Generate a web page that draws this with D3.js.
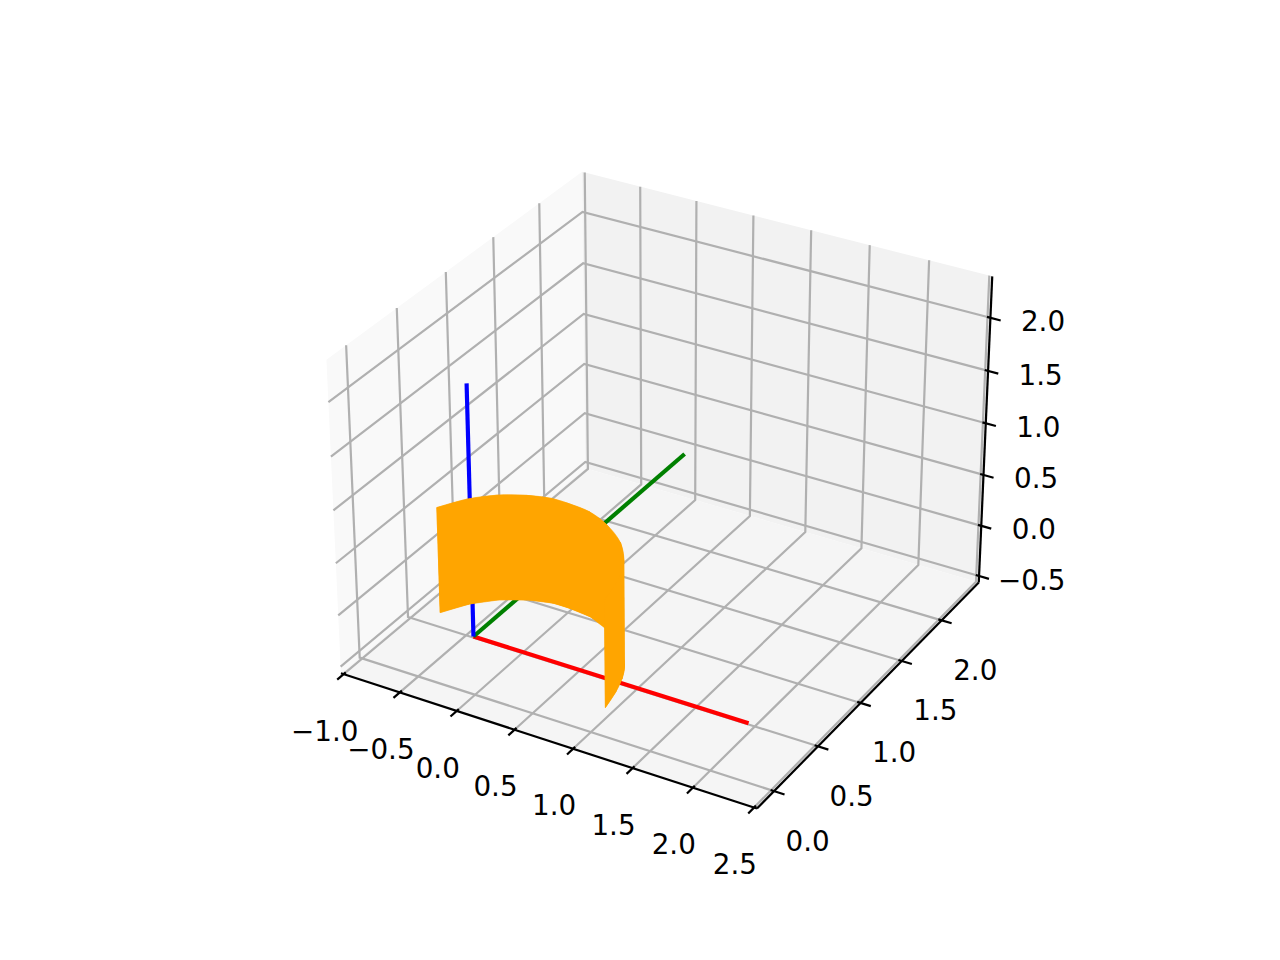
<!DOCTYPE html>
<html>
<head>
<meta charset="utf-8">
<script src="https://cdn.jsdelivr.net/npm/d3@7"></script>
<style>
  body { margin: 0; background: #fff; }
  text { font-family: "DejaVu Sans"; font-size: 27.78px; fill: #000; }
</style>
</head>
<body>
<div id="chart"></div>
<script>
(function() {
  var width = 1280, height = 960;

  var xLim = [-1.024, 2.524], yLim = [-0.19, 2.48], zLim = [-0.565, 2.385];

  var xTicks = [-1, -0.5, 0, 0.5, 1, 1.5, 2, 2.5];
  var yTicks = [0, 0.5, 1, 1.5, 2];
  var zTicks = [-0.5, 0, 0.5, 1, 1.5, 2];

  // the three lines from the origin
  var redLine = [[0, 0, 0], [2.31, 0, 0]];
  var greenLine = [[0, 0, 0], [0, 2.35, 0]];
  var blueLine = [[0, 0, 0], [0, 0, 2.35]];

  // orange sheet, xy outline
  var sheetX = [-0.375, -0.25, -0.09, 0.10, 0.28, 0.42, 0.62, 0.82, 1.04, 1.185, 1.25, 1.30, 1.34];
  var sheetY = [0.10, 0.26, 0.38, 0.46, 0.50, 0.50, 0.48, 0.41, 0.28, 0.13, 0.02, -0.11, -0.27];
  var sheetZ = [0.02, 1.02];

  var svg = d3.select("#chart").append("svg")
    .attr("width", width).attr("height", height);

  // same camera as mplot3d: elev 30, azim -60, dist 10, box 4:4:3
  var elev = 30 * Math.PI / 180, azim = -60 * Math.PI / 180, dist = 10;
  var norm = Math.sqrt(16 + 16 + 9), k = 1.8294640721620434 / norm;
  var box = [4 * k, 4 * k, 3 * k];
  var sx = d3.scaleLinear().domain(xLim).range([0, box[0]]);
  var sy = d3.scaleLinear().domain(yLim).range([0, box[1]]);
  var sz = d3.scaleLinear().domain(zLim).range([0, box[2]]);

  var center = box.map(function(d) { return d / 2; });
  var eye = [
    center[0] + dist * Math.cos(elev) * Math.cos(azim),
    center[1] + dist * Math.cos(elev) * Math.sin(azim),
    center[2] + dist * Math.sin(elev)
  ];
  function sub(a, b) { return [a[0] - b[0], a[1] - b[1], a[2] - b[2]]; }
  function dot(a, b) { return a[0] * b[0] + a[1] * b[1] + a[2] * b[2]; }
  function cross(a, b) {
    return [a[1] * b[2] - a[2] * b[1], a[2] * b[0] - a[0] * b[2], a[0] * b[1] - a[1] * b[0]];
  }
  function unit(a) { var n = Math.sqrt(dot(a, a)); return a.map(function(d) { return d / n; }); }
  var w = unit(sub(eye, center));
  var u = unit(cross([0, 0, 1], w));
  var v = cross(w, u);

  var px = d3.scaleLinear().domain([-0.0954, 0.0954]).range([665.5 - 398, 665.5 + 398]);
  var py = d3.scaleLinear().domain([-0.0954, 0.0954]).range([475.5 + 398, 475.5 - 398]);

  function project(p) {
    var q = sub([sx(p[0]), sy(p[1]), sz(p[2])], eye);
    var depth = -dot(q, w);
    return [px(dot(q, u) / depth), py(dot(q, v) / depth)];
  }
  var line = d3.line();
  function path3d(pts, closed) {
    return line(pts.map(project)) + (closed ? "Z" : "");
  }

  var x0 = xLim[0], x1 = xLim[1], y0 = yLim[0], y1 = yLim[1], z0 = zLim[0], z1 = zLim[1];

  // panes
  var panes = [
    { fill: "#f9f9f9", pts: [[x0, y0, z0], [x0, y1, z0], [x0, y1, z1], [x0, y0, z1]] },
    { fill: "#f2f2f2", pts: [[x0, y1, z0], [x1, y1, z0], [x1, y1, z1], [x0, y1, z1]] },
    { fill: "#f5f5f5", pts: [[x0, y0, z0], [x1, y0, z0], [x1, y1, z0], [x0, y1, z0]] }
  ];
  svg.selectAll(".pane").data(panes).enter().append("path")
    .attr("class", "pane")
    .attr("d", function(d) { return path3d(d.pts, true); })
    .attr("fill", function(d) { return d.fill; });

  // grid
  var grid = [];
  xTicks.forEach(function(t) { grid.push([[t, y0, z0], [t, y1, z0], [t, y1, z1]]); });
  yTicks.forEach(function(t) { grid.push([[x1, t, z0], [x0, t, z0], [x0, t, z1]]); });
  zTicks.forEach(function(t) { grid.push([[x0, y0, t], [x0, y1, t], [x1, y1, t]]); });
  svg.selectAll(".grid").data(grid).enter().append("path")
    .attr("class", "grid")
    .attr("d", function(d) { return path3d(d); })
    .attr("fill", "none").attr("stroke", "#b0b0b0").attr("stroke-width", 2.2);

  // axis lines
  var axisLines = [
    [[x0, y0, z0], [x1, y0, z0]],
    [[x1, y0, z0], [x1, y1, z0]],
    [[x1, y1, z0], [x1, y1, z1]]
  ];
  svg.selectAll(".axisline").data(axisLines).enter().append("path")
    .attr("class", "axisline")
    .attr("d", function(d) { return path3d(d); })
    .attr("stroke", "#000").attr("stroke-width", 2.2);

  // tick marks and labels
  var xdx = (x1 - x0), ydy = (y1 - y0);
  function fmt(t) { return d3.format(".1f")(t).replace("-", "\u2212"); }
  var ticks = [];
  xTicks.forEach(function(t) {
    ticks.push({ t: t, dx: -21, dy: 59, a: [t, y0 + 0.008 * ydy, z0], b: [t, y0 - 0.024 * ydy, z0] });
  });
  yTicks.forEach(function(t) {
    ticks.push({ t: t, dx: 37, dy: 51, a: [x1 - 0.008 * xdx, t, z0], b: [x1 + 0.024 * xdx, t, z0] });
  });
  zTicks.forEach(function(t) {
    ticks.push({ t: t, dx: 56, dy: 5, a: [x1 - 0.008 * xdx, y1, t], b: [x1 + 0.024 * xdx, y1, t] });
  });
  svg.selectAll(".tick").data(ticks).enter().append("path")
    .attr("class", "tick")
    .attr("d", function(d) { return path3d([d.a, d.b]); })
    .attr("stroke", "#000").attr("stroke-width", 2.2);
  svg.selectAll(".ticklabel").data(ticks).enter().append("text")
    .attr("class", "ticklabel")
    .attr("x", function(d) { return project(d.a)[0] + d.dx; })
    .attr("y", function(d) { return project(d.a)[1] + d.dy; })
    .attr("text-anchor", "middle")
    .attr("dominant-baseline", "central")
    .text(function(d) { return fmt(d.t); });

  // lines
  var lines = [
    { pts: redLine, color: "#ff0000" },
    { pts: greenLine, color: "#008000" },
    { pts: blueLine, color: "#0000ff" }
  ];
  svg.selectAll(".axis3d").data(lines).enter().append("path")
    .attr("class", "axis3d")
    .attr("d", function(d) { return path3d(d.pts); })
    .attr("fill", "none").attr("stroke", function(d) { return d.color; })
    .attr("stroke-width", 4.17);

  // orange sheet: straight strips fill the silhouette, the two curved
  // parts on top of them round off the edges
  var curve = d3.line().curve(d3.curveCatmullRom);
  function edge(ids, z) {
    return ids.map(function(i) { return project([sheetX[i], sheetY[i], z]); });
  }
  var n = sheetX.length;
  var strips = d3.pairs(d3.range(n)).map(function(d) {
    return line(edge(d, sheetZ[1]).concat(edge(d.slice().reverse(), sheetZ[0]))) + "Z";
  });
  var parts = [d3.range(0, n - 2), d3.range(n - 5, n)].map(function(ids) {
    var top = curve(edge(ids, sheetZ[1]));
    var bottom = curve(edge(ids.slice().reverse(), sheetZ[0]));
    return top + "L" + bottom.slice(1) + "Z";
  });
  svg.selectAll(".sheet").data(strips.concat(parts)).enter().append("path")
    .attr("class", "sheet")
    .attr("d", function(d) { return d; })
    .attr("fill", "#ffa500").attr("stroke", "#ffa500").attr("stroke-width", 0.6);
})();
</script>
</body>
</html>
